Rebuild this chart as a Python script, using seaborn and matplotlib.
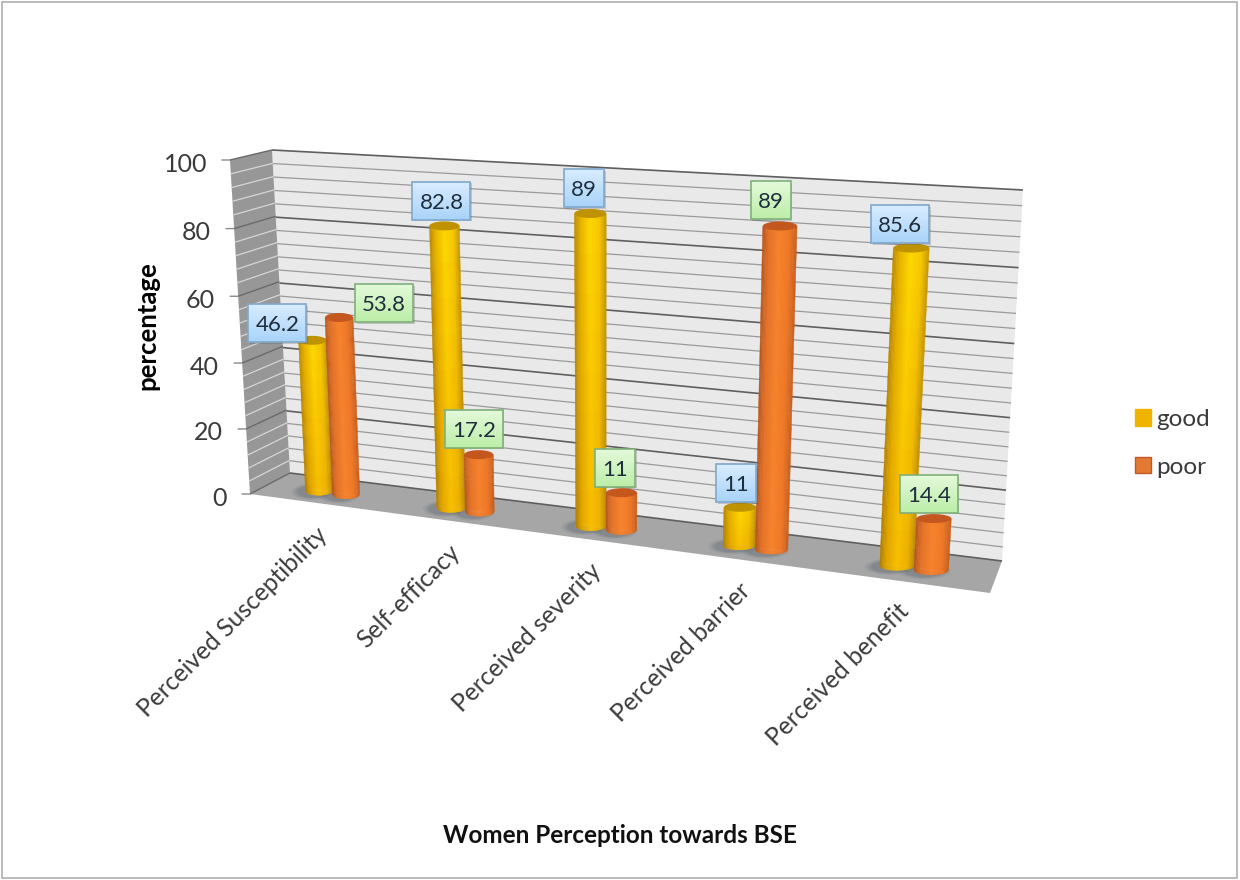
import numpy as np
import pandas as pd
import matplotlib
matplotlib.use("Agg")
import matplotlib.pyplot as plt
import matplotlib.transforms as mtransforms
from matplotlib.collections import PolyCollection
from matplotlib.colors import LinearSegmentedColormap, to_rgb
from matplotlib.patches import Patch, Polygon, Rectangle
import seaborn as sns

# Chart data
categories = ["Perceived Susceptibility", "Self-efficacy", "Perceived severity",
              "Perceived barrier", "Perceived benefit"]
good_values = [46.2, 82.8, 89, 11, 85.6]
poor_values = [53.8, 17.2, 11, 89, 14.4]
series_names = ["good", "poor"]
y_ticks = [0, 20, 40, 60, 80, 100]


class Perspective(mtransforms.Transform):
    """Projective mapping of a plane, solved from four corner correspondences."""
    input_dims = output_dims = 2
    is_separable = False
    has_inverse = False

    def __init__(self, src, dst):
        super().__init__()
        rows, rhs = [], []
        for (x, y), (px, py) in zip(src, dst):
            rows.append([x, y, 1, 0, 0, 0, -px * x, -px * y])
            rows.append([0, 0, 0, x, y, 1, -py * x, -py * y])
            rhs += [px, py]
        self.h = np.append(np.linalg.solve(np.array(rows, float), np.array(rhs, float)), 1).reshape(3, 3)

    def transform_non_affine(self, values):
        pts = np.column_stack([values, np.ones(len(values))]) @ self.h.T
        return pts[:, :2] / pts[:, 2:]


sns.set_theme(style="white")
plt.rcParams["font.family"] = ["Lato", "DejaVu Sans"]

fig = plt.figure(figsize=(12.4, 8.8), dpi=100, facecolor="white")
ax = fig.add_axes([0, 0, 1, 1])
ax.set_axis_off()

canvas = mtransforms.Affine2D().scale(1, -1).translate(0, 880)


def plane(src, dst):
    return Perspective(src, dst) + canvas


unit_rect = [(0, 0), (1, 0), (0, 100), (1, 100)]
back_plane = plane(unit_rect, [(290, 473), (1002, 561), (272, 150), (1023, 190)])
side_plane = plane(unit_rect, [(250, 494), (290, 473), (230, 160), (272, 150)])
floor_plane = plane([(0, 0), (1, 0), (0, 1), (1, 1)], [(290, 473), (1002, 561), (250, 494), (990, 593)])
bar_corners = ([(0, 0), (4, 0), (0, 100), (4, 100)],
               [(332.5, 492.5), (914, 568), (318.5, 157), (932, 192.5)])
bar_plane = plane(*bar_corners)
to_pixels = Perspective(*bar_corners)


def project(u, v):
    return to_pixels.transform_non_affine(np.array([[u, v]], float))[0]


# Bars come from seaborn; the perspective plane is assigned to them afterwards
frame = pd.DataFrame({
    "category": categories * 2,
    "series": [series_names[0]] * len(categories) + [series_names[1]] * len(categories),
    "value": good_values + poor_values,
})
sns.barplot(data=frame, x="category", y="value", hue="series", width=0.42, gap=0, dodge=True,
            palette=["#F2BE00", "#EC7626"], saturation=1, errorbar=None, legend=False, ax=ax)
ax.set_axis_off()

# Walls and floor
ax.add_patch(Polygon([(0, 0), (1, 0), (1, 100), (0, 100)], closed=True, transform=back_plane,
                     fc="#E9E9E9", ec="none", zorder=1))
ax.add_patch(Polygon([(0, 0), (1, 0), (1, 100), (0, 100)], closed=True, transform=side_plane,
                     fc="#979797", ec="none", zorder=1))
ax.add_patch(Polygon([(0, 0), (1, 0), (1, 1), (0, 1)], closed=True, transform=floor_plane,
                     fc="#A6A6A6", ec="none", zorder=1))

for level in np.arange(0, 101, 4):
    major = level % 20 == 0
    ax.plot([0, 1], [level, level], transform=back_plane, color="#5F5F5F" if major else "#9A9A9A",
            lw=1.2 if major else 0.9, zorder=2, solid_capstyle="butt")
    ax.plot([0, 1], [level, level], transform=side_plane, color="#6A6A6A" if major else "#D6D6D6",
            lw=1.0 if major else 0.9, zorder=2, solid_capstyle="butt")

# Value axis: ticks sit on the front edge of the side wall
for tick in y_ticks:
    ax.annotate("", xy=(0, tick), xycoords=side_plane, xytext=(-8, 0), textcoords="offset pixels",
                arrowprops=dict(arrowstyle="-", color="#8A8A8A", lw=1, shrinkA=0, shrinkB=0), zorder=2)
    ax.annotate(str(tick), xy=(0, tick), xycoords=side_plane, xytext=(-23, -4), textcoords="offset pixels",
                ha="right", va="center", fontsize=18, color="#3A3A3A")

good_map = LinearSegmentedColormap.from_list(
    "good", [(0, "#B88A00"), (0.2, "#E8B400"), (0.5, "#FFDC00"), (0.8, "#F8CA00"), (1, "#C89800")])
good_low = LinearSegmentedColormap.from_list(
    "good_low", [(0, "#B07E00"), (0.2, "#E0A400"), (0.5, "#F8BE00"), (0.8, "#ECB000"), (1, "#BE8A00")])
poor_map = LinearSegmentedColormap.from_list(
    "poor", [(0, "#B5551C"), (0.2, "#E5732A"), (0.5, "#F7842E"), (0.8, "#EE7828"), (1, "#C55E1E")])
styles = [(good_map, good_low, "#BE9200"), (poor_map, poor_map, "#C4571E")]

cap_minor = 4.5
label_boxes = {
    "good": ("#A9D3F9", "#D8ECFF", "#7FA8CC"),
    "poor": ("#BCEEA8", "#E4F9DA", "#7FB07A"),
}
label_nudge = {
    (0, 0): (-35, -17), (1, 0): (45, -14),
    (0, 1): (-3, -25), (1, 1): (-5, -26),
    (0, 2): (-6, -25), (1, 2): (-6, -25),
    (0, 3): (-4, -24), (1, 3): (-9, -26),
    (0, 4): (-11, -24), (1, 4): (-5, -25),
}
theta = np.linspace(0, 2 * np.pi, 60)

for s, container in enumerate(ax.containers):
    top_map, low_map, cap_colour = styles[s]
    for c, bar in enumerate(container):
        left, width, height = bar.get_x(), bar.get_width(), bar.get_height()
        mid = left + width / 2
        z = 3 + s + c * 0.1

        # The flat bar stays inside the rounded body
        bar.set_x(mid - width * 0.4)
        bar.set_width(width * 0.8)
        bar.set_transform(bar_plane)
        bar.set_zorder(z)

        base_x, base_y = project(mid, 0)
        top_x, top_y = project(mid, height)
        half_base = (project(mid + width / 2, 0)[0] - project(mid - width / 2, 0)[0]) / 2
        half_top = (project(mid + width / 2, height)[0] - project(mid - width / 2, height)[0]) / 2

        # Soft contact shadow on the floor
        for grow, alpha in ((1.5, 0.10), (1.3, 0.14), (1.12, 0.18)):
            shadow = np.column_stack([base_x - 7 + half_base * grow * np.cos(theta),
                                      base_y + 1 + cap_minor * 1.2 * grow * np.sin(theta)])
            ax.add_patch(Polygon(shadow, closed=True, transform=canvas, fc="#4F5A66", alpha=alpha,
                                 ec="none", zorder=2.5))

        # Cylinder body as shaded cells, upright in screen space
        ts = np.linspace(-1, 1, 29)
        fs = np.linspace(0, 1, 9)
        polys, colours = [], []
        for t0, t1 in zip(ts[:-1], ts[1:]):
            tone = (t0 + t1) / 4 + 0.5
            a, b = np.array(to_rgb(top_map(tone))), np.array(to_rgb(low_map(tone)))

            def outline(t, f):
                x = base_x + f * (top_x - base_x) + t * (half_base + f * (half_top - half_base))
                y = base_y + f * (top_y - base_y) + (1 - f) * cap_minor * np.sqrt(max(1 - t ** 2, 0))
                return (x, y)

            for f0, f1 in zip(fs[:-1], fs[1:]):
                polys.append([outline(t0, f0), outline(t1, f0), outline(t1, f1), outline(t0, f1)])
                mix = (f0 + 0.06) / 1.06
                colours.append(a * mix + b * (1 - mix))
        ax.add_collection(PolyCollection(polys, facecolors=colours, edgecolors=colours, linewidths=0.35,
                                         transform=canvas, zorder=z + 0.01), autolim=False)

        # Top cap
        cap = np.column_stack([top_x + half_top * np.cos(theta), top_y + cap_minor * np.sin(theta)])
        ax.add_patch(Polygon(cap, closed=True, transform=canvas, fc=cap_colour, ec="none", zorder=z + 0.02))

        # Value label box anchored to the top of the bar
        value_text = f"{height:g}"
        dx, dy = label_nudge[(s, c)]
        cx, cy = top_x + dx, top_y + dy
        half_w = 29 if len(value_text) > 2 else 20
        half_h = 19
        low_col, high_col, edge = label_boxes[series_names[s]]
        ax.add_patch(Rectangle((cx - half_w + 1.5, cy - half_h + 1.5), 2 * half_w, 2 * half_h, transform=canvas,
                               fc="#555555", alpha=0.25, ec="none", zorder=9.9))
        ramp = np.linspace(to_rgb(low_col), to_rgb(high_col), 32)[:, None, :]
        ax.imshow(ramp[::-1], extent=(cx - half_w, cx + half_w, cy + half_h, cy - half_h), aspect="auto",
                  origin="upper", transform=canvas, zorder=10, interpolation="bilinear")
        ax.add_patch(Rectangle((cx - half_w, cy - half_h), 2 * half_w, 2 * half_h, transform=canvas,
                               fc="none", ec=edge, lw=1.2, zorder=10.1))
        ax.text(cx, cy, value_text, transform=canvas, ha="center", va="center_baseline", fontsize=16,
                color="#1F2E3D", zorder=10.2)

# Category labels, rotated below the floor
for c, name in enumerate(categories):
    ax.annotate(name, xy=(c, 0), xycoords=bar_plane, xytext=(-17, -31), textcoords="offset pixels",
                rotation=45, rotation_mode="anchor", ha="right", va="top", fontsize=17.7, color="#3C3C3C")

ax.text(147, 326, "percentage", transform=canvas, rotation=90, ha="center", va="center",
        fontsize=18.5, fontweight="bold", color="black")
ax.text(620, 835, "Women Perception towards BSE", transform=canvas, ha="center", va="center",
        fontsize=17.5, fontweight="bold", color="#111111")

handles = [Patch(fc="#F0B400", ec="#F0B400"), Patch(fc="#E37A33", ec="#C0582A")]
ax.legend(handles, series_names, loc="upper left", bbox_to_anchor=(1135 / 1240, 1 - 409 / 880),
          frameon=False, fontsize=17.5, handlelength=0.66, handleheight=0.66, handletextpad=0.22,
          labelspacing=1.1, borderpad=0, borderaxespad=0, labelcolor="#3A3A3A")

# Chart area outline
fig.add_artist(Rectangle((2 / 1240, 2 / 880), 1235 / 1240, 876 / 880, transform=fig.transFigure,
                         fc="none", ec="#AEAEAE", lw=1.2))

fig.savefig("out.png", dpi=100)
